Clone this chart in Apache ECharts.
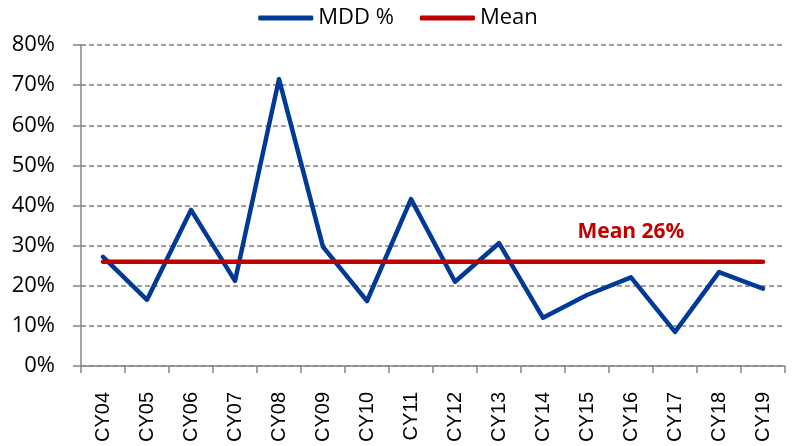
<!DOCTYPE html>
<html>
<head>
<meta charset="utf-8">
<script src="https://cdn.jsdelivr.net/npm/echarts@6/dist/echarts.min.js"></script>
<style>
  html, body { margin: 0; padding: 0; background: #fff; }
  #chart { width: 796px; height: 446px; }
</style>
</head>
<body>
<div id="chart"></div>
<script>
// Calendar years on the x axis
const categories = ['CY04', 'CY05', 'CY06', 'CY07', 'CY08', 'CY09', 'CY10', 'CY11',
                    'CY12', 'CY13', 'CY14', 'CY15', 'CY16', 'CY17', 'CY18', 'CY19'];
// Maximum drawdown per year, in percent
const mddValues = [27.2, 16.5, 38.9, 21.2, 71.5, 29.7, 16.2, 41.6,
                   21.0, 30.6, 12.0, 17.7, 22.1, 8.5, 23.4, 19.3];
// Average drawdown across the period, in percent
const meanValue = 26;
const meanLabelYear = 'CY16';
// Value axis ticks
const yTicks = [0, 10, 20, 30, 40, 50, 60, 70, 80];

const BLUE = '#003A96';
const RED = '#C00000';
const FONT = '"Open Sans", "Noto Sans", sans-serif';

const meanData = categories.map(() => meanValue);

const chart = echarts.init(document.getElementById('chart'), null, { renderer: 'canvas' });
chart.setOption({
  animation: false,
  backgroundColor: '#ffffff',
  legend: {
    top: 2,
    left: 'center',
    itemWidth: 55,
    itemHeight: 5,
    itemGap: 26,
    icon: 'roundRect',
    textStyle: { fontFamily: FONT, fontSize: 22, color: '#000' },
    data: ['MDD %', 'Mean']
  },
  grid: { left: 81, right: 11, top: 45, bottom: 80, containLabel: false },
  xAxis: {
    type: 'category',
    data: categories,
    boundaryGap: true,
    axisLine: { lineStyle: { color: '#868686', width: 1.5 } },
    axisTick: { show: true, interval: 0, length: 7, lineStyle: { color: '#868686', width: 1.5 } },
    axisLabel: {
      interval: 0,
      rotate: 90,
      margin: 26,
      fontFamily: '"Liberation Sans", Arial, sans-serif',
      fontSize: 20,
      color: '#000'
    },
    splitLine: { show: false }
  },
  yAxis: {
    type: 'value',
    min: yTicks[0],
    max: yTicks[yTicks.length - 1],
    interval: yTicks[1] - yTicks[0],
    axisLine: { show: true, lineStyle: { color: '#868686', width: 1.5 } },
    axisTick: { show: true, length: 8, lineStyle: { color: '#868686', width: 1.5 } },
    axisLabel: {
      margin: 26,
      fontFamily: FONT,
      fontSize: 22,
      color: '#000',
      formatter: '{value}%'
    },
    splitLine: { show: true, lineStyle: { color: '#808080', width: 1.5, type: [5, 3] } }
  },
  series: [
    {
      name: 'MDD %',
      type: 'line',
      data: mddValues,
      showSymbol: false,
      symbol: 'none',
      color: BLUE,
      lineStyle: { color: BLUE, width: 4.5, join: 'round', cap: 'round' },
      z: 2
    },
    {
      name: 'Mean',
      type: 'line',
      data: meanData,
      showSymbol: false,
      symbol: 'none',
      color: RED,
      lineStyle: { color: RED, width: 4.5, cap: 'round' },
      markPoint: {
        symbol: 'circle',
        symbolSize: 0,
        silent: true,
        label: {
          show: true,
          position: 'top',
          distance: 19,
          formatter: 'Mean ' + meanValue + '%',
          fontFamily: FONT,
          fontWeight: 'bold',
          fontSize: 21,
          color: RED
        },
        data: [{ coord: [meanLabelYear, meanValue] }]
      },
      z: 3
    }
  ]
});
</script>
</body>
</html>
